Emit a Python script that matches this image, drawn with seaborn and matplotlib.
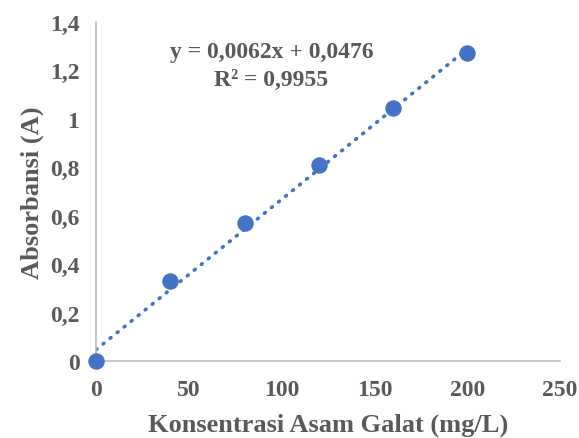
import matplotlib.pyplot as plt
import seaborn as sns
import numpy as np

# data
konsentrasi = [0, 40, 80, 120, 160, 200]
absorbansi = [0.0, 0.33, 0.57, 0.81, 1.045, 1.27]
slope = 0.0062
intercept = 0.0476
r2 = 0.9955

x_ticks = [0, 50, 100, 150, 200, 250]
y_ticks = [0, 0.2, 0.4, 0.6, 0.8, 1.0, 1.2, 1.4]
y_labels = ["0", "0,2", "0,4", "0,6", "0,8", "1", "1,2", "1,4"]

sns.set_style("white")
plt.rcParams['font.family'] = ['Liberation Serif', 'DejaVu Serif']
plt.rcParams['font.weight'] = 'bold'

text_col = '#595959'
blue = '#4472C4'

fig = plt.figure(figsize=(5.79, 4.39), dpi=100)
ax = fig.add_axes([0.166, 0.175, 0.801, 0.773])

# trendline
xl = np.array([konsentrasi[0], konsentrasi[-1]])
ax.plot(xl, slope * xl + intercept, linestyle=(0, (0.3, 2.2)), color=blue,
        linewidth=2.6, dash_capstyle='round', zorder=2)

sns.scatterplot(x=konsentrasi, y=absorbansi, ax=ax, color=blue, s=140,
                edgecolor=blue, linewidth=0, zorder=3, clip_on=False)

ax.set_xlim(0, 250)
ax.set_ylim(0, 1.4)
ax.set_xticks(x_ticks)
ax.set_xticklabels([str(t) for t in x_ticks])
ax.set_yticks(y_ticks)
ax.set_yticklabels(y_labels)

for side in ['top', 'right']:
    ax.spines[side].set_visible(False)
for side in ['left', 'bottom']:
    ax.spines[side].set_color('#BFBFBF')
    ax.spines[side].set_linewidth(1.2)

ax.tick_params(axis='both', which='major', direction='out', length=6,
               width=1.2, color='#BFBFBF', labelsize=17, labelcolor=text_col,
               pad=6)
ax.tick_params(axis='x', pad=7)
for lab in ax.get_xticklabels() + ax.get_yticklabels():
    lab.set_fontweight('bold')

ax.set_xlabel('Konsentrasi Asam Galat (mg/L)', fontsize=19, fontweight='bold',
              color=text_col, labelpad=9)
ax.set_ylabel('Absorbansi (A)', fontsize=19, fontweight='bold',
              color=text_col, labelpad=4)

ax.text(0.378, 0.912,
        f"y = {slope:.4f}x + {intercept:.4f}".replace('.', ','),
        transform=ax.transAxes, ha='center', va='center', fontsize=17,
        fontweight='bold', color=text_col)
ax.text(0.378, 0.83, f"R² = {r2:.4f}".replace('.', ','),
        transform=ax.transAxes, ha='center', va='center', fontsize=17,
        fontweight='bold', color=text_col)

fig.savefig('out.png', dpi=100)
plt.close(fig)
